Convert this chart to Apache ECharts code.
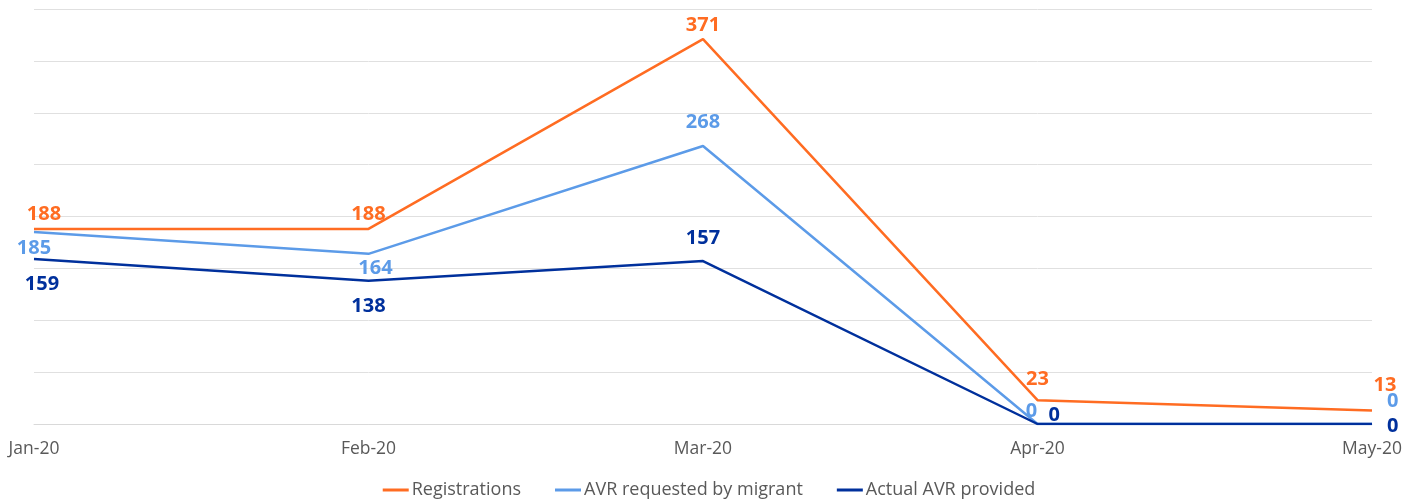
<!DOCTYPE html>
<html>
<head>
<meta charset="utf-8">
<script src="https://cdn.jsdelivr.net/npm/echarts@6/dist/echarts.min.js"></script>
<style>
  html,body{margin:0;padding:0;background:#fff;}
  #chart{width:1418px;height:502px;}
</style>
</head>
<body>
<div id="chart"></div>
<script>
// months on the x axis
var months = ['Jan-20', 'Feb-20', 'Mar-20', 'Apr-20', 'May-20'];
// series values
var registrations = [188, 188, 371, 23, 13];
var avrRequested = [185, 164, 268, 0, 0];
var avrProvided = [159, 138, 157, 0, 0];

var seriesNames = ['Registrations', 'AVR requested by migrant', 'Actual AVR provided'];
var colors = ['#FF6C22', '#5C9BE8', '#00309C'];

// where each data label sits (per point)
var labelPlace = [
  [['top', [10, 0]], ['top', [0, 0]], ['top', [0, 1]], ['top', [0, -6]], ['top', [13, -10]]],
  [['bottom', [0, 1]], ['bottom', [7, -1]], ['top', [0, -9]], ['top', [-6, 2]], ['right', [10, -23]]],
  [['bottom', [8, 10]], ['bottom', [0, 10]], ['top', [0, -8]], ['right', [6, -9]], ['right', [10, 2]]]
];

function buildData(values, idx) {
  return values.map(function (v, i) {
    var p = labelPlace[idx][i];
    return {value: v, label: {position: p[0], offset: p[1]}};
  });
}

var chart = echarts.init(document.getElementById('chart'));
var allValues = [registrations, avrRequested, avrProvided];

var option = {
  animation: false,
  textStyle: {fontFamily: '"Open Sans", sans-serif'},
  grid: {left: 34, right: 46, top: 9, bottom: 78},
  legend: {
    bottom: -2,
    left: 'center',
    itemWidth: 26,
    itemHeight: 3,
    itemGap: 34,
    icon: 'rect',
    textStyle: {color: '#595959', fontSize: 18, fontFamily: '"Open Sans", sans-serif', padding: [0, 0, 0, -2]},
    data: seriesNames
  },
  xAxis: {
    type: 'category',
    boundaryGap: false,
    data: months,
    axisLine: {lineStyle: {color: '#d9d9d9'}},
    axisTick: {show: false},
    axisLabel: {color: '#595959', fontSize: 17.5, margin: 16}
  },
  yAxis: {
    type: 'value',
    min: 0,
    max: 400,
    interval: 50,
    axisLabel: {show: false},
    axisLine: {show: false},
    axisTick: {show: false},
    splitLine: {lineStyle: {color: '#e0e0e0'}}
  },
  series: allValues.map(function (vals, idx) {
    return {
      name: seriesNames[idx],
      type: 'line',
      data: buildData(vals, idx),
      color: colors[idx],
      symbol: 'circle',
      symbolSize: 0.1,
      showSymbol: true,
      lineStyle: {width: 2.5, color: colors[idx]},
      z: 2 + idx,
      label: {
        show: true,
        color: colors[idx],
        fontSize: 20,
        fontWeight: 'bold',
        fontFamily: '"Open Sans", sans-serif'
      }
    };
  })
};

chart.setOption(option);
</script>
</body>
</html>
